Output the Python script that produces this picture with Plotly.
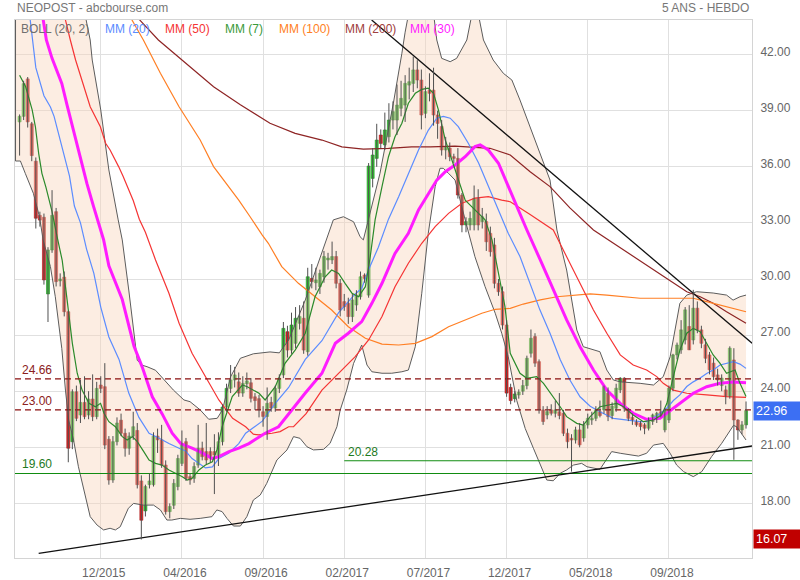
import plotly.graph_objects as go

# ---------------- data ----------------
weeks = list(range(180))

opens = [
    38.4, 38.7, 40.7, 38.3, 36.3, 33.4, 33.3, 29.2, 31.55, 33.6,
    29.9, 30.1, 28.25, 21.3, 23.97, 22.73, 23.4, 22.73, 23.58, 22.64,
    24.33, 24.24, 21.43, 19.25, 21.3, 22.45, 21.75, 20.95, 21.6, 21.9,
    19.2, 17.6, 19.0, 19.0, 21.6, 21.4, 20.05, 17.56, 17.9, 18.9,
    20.14, 21.3, 19.43, 19.34, 20.05, 20.95, 20.77, 20.77, 20.77, 20.5,
    21.3, 23.15, 24.15, 24.6, 24.5, 23.9, 24.4, 24.45, 23.7, 23.6,
    22.9, 22.65, 23.4, 23.1, 24.15, 24.87, 27.18, 26.2, 26.56, 27.63,
    27.9, 26.11, 30.03, 29.8, 29.59, 30.12, 31.02, 31.02, 31.2, 29.77,
    28.79, 28.7, 27.99, 28.61, 29.05, 30.21, 29.14, 35.38, 36.45, 37.7,
    37.17, 37.61, 38.5, 38.5, 39.13, 39.3, 40.37, 40.46, 41.18, 40.64,
    38.86, 40.1, 40.1, 38.77, 38.15, 36.9, 37.0, 36.54, 36.45, 34.49,
    32.89, 32.89, 32.89, 34.31, 33.07, 33.07, 32.44, 31.82, 29.77, 29.32,
    27.54, 24.2, 23.6, 23.8, 24.0, 24.3, 26.03, 26.92, 25.58, 23.0,
    22.73, 23.0, 22.82, 22.9, 22.82, 21.75, 21.48, 21.39, 21.93, 21.5,
    22.2, 22.46, 22.55, 22.9, 23.0, 23.89, 22.7, 23.09, 24.07, 24.69,
    23.0, 22.6, 22.38, 22.29, 22.2, 22.02, 22.38, 22.5, 22.9, 21.93,
    22.46, 24.16, 25.94, 26.21, 26.74, 27.46, 26.74, 28.44, 27.28, 26.48,
    25.94, 25.5, 24.87, 24.3, 24.07, 23.71, 25.67, 22.46, 21.93, 22.2,
]
highs = [
    38.8, 40.6, 40.8, 38.4, 36.5, 33.6, 33.5, 31.7, 34.75, 33.8,
    30.3, 30.4, 28.3, 24.1, 24.3, 24.6, 24.8, 24.0, 24.9, 24.5,
    24.8, 25.5, 21.6, 21.6, 22.6, 22.8, 22.0, 21.8, 22.9, 22.3,
    19.5, 19.0, 19.6, 21.8, 22.0, 22.2, 20.3, 18.0, 19.3, 20.6,
    21.9, 21.5, 19.6, 20.2, 22.2, 21.3, 22.3, 21.0, 21.7, 21.8,
    23.3, 24.4, 25.4, 25.3, 25.0, 24.8, 25.0, 24.7, 23.9, 23.8,
    23.2, 24.2, 23.7, 24.3, 24.9, 27.7, 27.5, 28.2, 28.5, 28.6,
    28.8, 30.6, 30.8, 30.6, 30.5, 31.5, 31.4, 32.0, 31.5, 30.0,
    29.2, 29.0, 29.2, 29.4, 30.4, 30.3, 36.2, 37.0, 38.3, 38.0,
    38.9, 39.4, 39.5, 40.4, 40.6, 40.9, 41.3, 41.9, 41.7, 41.2,
    40.3, 41.0, 41.3, 39.0, 38.5, 37.6, 37.3, 36.7, 37.0, 34.6,
    33.3, 33.6, 35.0, 34.8, 33.8, 33.5, 32.8, 32.2, 30.0, 29.6,
    27.8, 24.4, 24.0, 24.1, 24.6, 25.9, 27.3, 27.1, 25.7, 23.2,
    23.2, 23.3, 23.5, 23.9, 23.0, 22.0, 21.7, 22.1, 22.3, 22.4,
    22.8, 22.9, 23.2, 23.5, 24.3, 24.2, 23.4, 24.4, 24.75, 24.75,
    23.1, 22.8, 22.5, 22.4, 22.3, 22.6, 22.8, 22.9, 23.5, 23.1,
    24.3, 26.0, 26.6, 27.8, 28.5, 28.6, 29.42, 28.8, 27.5, 26.8,
    26.1, 25.8, 25.2, 24.9, 24.3, 26.4, 26.3, 22.5, 22.4, 23.45,
]
lows = [
    36.6, 38.5, 38.1, 36.3, 32.7, 32.8, 29.7, 27.7, 31.4, 29.6,
    29.6, 28.0, 20.2, 20.9, 22.4, 22.3, 22.5, 22.5, 22.4, 22.5,
    23.9, 20.9, 19.0, 19.1, 21.1, 21.6, 20.5, 20.6, 21.4, 18.8,
    16.07, 17.3, 18.8, 18.9, 20.7, 19.9, 17.4, 17.2, 17.7, 18.7,
    20.0, 19.2, 19.0, 19.1, 19.9, 20.3, 20.1, 20.2, 18.5, 20.0,
    21.1, 22.9, 23.9, 24.2, 23.7, 23.7, 24.1, 23.4, 23.0, 22.6,
    22.1, 21.4, 22.9, 22.9, 23.9, 24.7, 25.8, 26.0, 26.3, 27.3,
    26.0, 25.9, 29.5, 29.4, 29.2, 29.8, 30.5, 30.8, 29.5, 28.0,
    28.3, 27.6, 27.7, 28.3, 28.9, 29.8, 29.0, 34.9, 36.0, 37.0,
    36.9, 37.3, 38.0, 37.7, 38.7, 38.4, 39.6, 40.0, 40.2, 38.0,
    38.6, 39.5, 38.2, 37.5, 36.6, 36.4, 36.3, 36.2, 34.3, 32.5,
    32.5, 32.6, 32.6, 32.6, 32.7, 31.5, 31.2, 29.5, 29.1, 27.3,
    23.7, 23.3, 23.4, 23.6, 23.8, 24.1, 25.8, 25.3, 22.8, 22.2,
    22.5, 22.7, 22.6, 22.5, 21.6, 20.95, 19.7, 21.2, 21.0, 21.3,
    22.0, 22.2, 22.4, 22.6, 22.8, 22.4, 22.5, 22.9, 23.9, 22.9,
    22.4, 22.2, 22.1, 21.9, 21.7, 21.9, 22.2, 22.3, 22.6, 21.8,
    22.3, 24.0, 25.7, 26.0, 26.5, 26.2, 26.5, 27.1, 26.3, 25.5,
    24.9, 24.6, 24.3, 24.0, 23.3, 23.6, 20.33, 21.4, 21.7, 22.0,
]
closes = [
    38.7, 40.45, 38.4, 36.6, 33.25, 33.15, 29.95, 31.55, 33.4, 29.86,
    30.0, 28.25, 20.95, 23.97, 22.55, 23.4, 22.64, 23.58, 22.64, 24.15,
    24.15, 21.12, 19.25, 21.3, 22.3, 21.75, 20.95, 21.6, 22.1, 19.0,
    17.1, 18.9, 19.2, 21.6, 21.4, 20.05, 17.56, 17.83, 19.07, 20.4,
    21.12, 19.34, 19.25, 19.97, 20.95, 20.5, 20.32, 20.5, 20.59, 21.3,
    23.15, 24.15, 24.6, 24.87, 23.9, 24.42, 24.55, 23.62, 23.5, 23.0,
    22.65, 23.35, 23.1, 24.15, 24.7, 27.36, 26.2, 27.54, 27.9, 27.99,
    26.2, 30.12, 29.86, 29.95, 30.3, 31.2, 31.12, 31.2, 29.77, 28.34,
    28.52, 27.99, 28.88, 29.14, 30.12, 30.03, 36.04, 36.63, 37.43, 37.25,
    37.97, 38.5, 38.95, 39.3, 39.66, 40.46, 40.55, 41.18, 40.64, 38.77,
    40.02, 39.93, 38.77, 38.32, 36.9, 37.08, 36.54, 36.45, 34.49, 32.89,
    33.07, 33.24, 34.31, 32.89, 33.33, 31.99, 31.46, 29.77, 29.32, 27.54,
    23.9, 23.5, 23.85, 23.95, 24.3, 25.76, 26.83, 25.5, 23.0, 22.38,
    22.91, 22.82, 23.0, 22.7, 21.75, 21.3, 21.39, 21.93, 21.13, 22.2,
    22.55, 22.55, 23.0, 22.7, 24.25, 22.64, 23.2, 24.16, 24.69, 23.09,
    22.55, 22.46, 22.2, 22.11, 22.02, 22.38, 22.73, 22.82, 22.7, 22.96,
    24.16, 25.94, 26.47, 27.28, 28.35, 26.21, 28.44, 27.28, 26.56, 25.76,
    25.14, 24.78, 24.6, 24.7, 23.71, 26.3, 22.46, 21.93, 22.2, 22.96,
]

x_tick_weeks = [20, 40, 60, 80, 100, 120, 140, 160]
x_tick_labels = ["12/2015", "04/2016", "09/2016", "02/2017",
                 "07/2017", "12/2017", "05/2018", "09/2018"]
y_tick_values = [18, 21, 24, 27, 30, 33, 36, 39, 42]

# indicator lines: (week index, value) pairs
mm7 = [(0, 40.9), (1.5, 40.28), (3.1, 39.04), (3.9, 38.14), (4.7, 36.72), (5.5, 35.65), (6.5, 34.9),
       (8, 33.6), (9.2, 32.3), (10.5, 31.0), (11.7, 28.9), (13, 26.56), (14.2, 24.96), (15.4, 24.06),
       (17.1, 23.35), (18.7, 23.17), (19.95, 23.35), (20.8, 22.82), (22, 22.37), (23.6, 22.1),
       (25.3, 21.57), (26.5, 21.39), (27.8, 21.57), (29, 21.3), (30.6, 20.77), (31.9, 20.32),
       (33.5, 20.14), (35.1, 20.05), (36.8, 19.79), (38.4, 19.61), (40.1, 19.43), (41.3, 19.25),
       (42.5, 19.34), (44.2, 19.79), (45.8, 20.05), (47.5, 20.23), (48.7, 20.9), (49.9, 22.1),
       (52.4, 23.71), (54.9, 24.33), (56.1, 24.24), (59, 23.89), (60.5, 23.53), (63, 24.24),
       (65.4, 25.49), (67.9, 26.2), (70.4, 27.1), (72.8, 29.05), (75.3, 30.12), (76.9, 30.48),
       (78.6, 30.3), (80.2, 29.77), (81.9, 29.24), (83.5, 29.05), (85.2, 29.59), (86.4, 31.19),
       (87.6, 33.16), (89.3, 34.94), (90.9, 36.54), (92.5, 37.61), (94.2, 38.33), (95.8, 39.4),
       (97.5, 39.93), (99.1, 40.14), (100.7, 40.2), (102, 39.93), (103.2, 39.04), (104.9, 37.43),
       (106.5, 36.36), (108.1, 35.29), (109.8, 34.22), (111.4, 33.87), (113.1, 33.51),
       (114.7, 33.16), (116.4, 32.09), (118, 30.3), (119.6, 28.52), (120.9, 26.03), (123.3, 24.96),
       (125, 24.69), (127.4, 24.78), (129.1, 24.42), (131.5, 23.71), (133.2, 23.17), (134.8, 22.64),
       (137.3, 22.28), (138.9, 22.19), (140.6, 22.64), (143, 23.17), (145.5, 23.26), (147.2, 23.35),
       (148.8, 23.17), (151.2, 22.73), (153.7, 22.37), (156.2, 22.46), (158.2, 22.73), (159.5, 23.35),
       (161.1, 24.78), (162.7, 26.2), (164.4, 27.1), (166, 27.36), (167.7, 27.18), (169.3, 26.56),
       (170.9, 25.94), (172.6, 25.49), (174.2, 24.96), (176.3, 25.13), (177.5, 24.42), (179, 23.71)]

mm20 = [(2, 45.0), (3, 43.1), (4, 41.3), (6, 39.8), (7.6, 39.2), (8.5, 38.7), (9.6, 37.8), (10.6, 37.0),
        (12.3, 35.5), (13.5, 33.9), (15, 33.0), (16.5, 31.6), (18.3, 30.3), (20, 28.5), (22, 26.9),
        (24.5, 25.7), (26.9, 23.9), (29.4, 22.6), (31.9, 21.75), (34.3, 21.5), (36.8, 21.2),
        (39.3, 20.95), (40.9, 20.8), (42.5, 20.4), (44.2, 20.15), (45.8, 19.9), (47.5, 19.95),
        (49.1, 20.4), (51.6, 20.7), (54, 21.2), (55.7, 21.75), (57.3, 22.0), (59.8, 22.4),
        (63, 23.35), (66.3, 24.2), (70.4, 25.7), (74.5, 26.7), (78.6, 28.2), (82.7, 29.2),
        (84.3, 29.5), (86, 30.5), (88.4, 31.7), (90.9, 33.2), (93.4, 34.4), (95.8, 35.65),
        (98.3, 36.9), (100.7, 37.95), (102.8, 38.6), (104.4, 38.7), (106.1, 38.6), (108.1, 38.15),
        (110.6, 37.25), (113.1, 36.2), (115.5, 34.95), (118, 33.7), (120.4, 32.45), (123.3, 31.2),
        (125.8, 29.8), (128.2, 28.35), (130.7, 27.1), (133.2, 25.7), (135.6, 24.6), (138.1, 23.7),
        (140.6, 23.2), (143, 22.9), (146.3, 22.55), (149.6, 22.45), (152.9, 22.37), (154.5, 22.37),
        (156.2, 22.6), (157.8, 22.8), (159.5, 23.1), (161.1, 23.5), (162.7, 23.8), (164.4, 24.25),
        (166, 24.5), (167.7, 24.7), (169.3, 24.95), (170.9, 25.13), (172.6, 25.4), (174.2, 25.5),
        (175.9, 25.58), (177.5, 25.45), (179, 25.22)]

mm30 = [(5, 45.0), (5.8, 43.85), (6.6, 42.78), (8, 41.8), (10.4, 40.46), (11.7, 39.3), (13, 38.2),
        (14.1, 37.2), (15.4, 36.2), (16.6, 35.1), (18.2, 33.9), (19.9, 32.6), (20.7, 32.1), (22, 30.7),
        (25.3, 28.9), (28.2, 26.4), (30.2, 25.3), (32.7, 23.7), (35.1, 22.8), (37.6, 21.75),
        (39.7, 21.2), (42.5, 20.95), (45, 20.7), (47.5, 20.4), (49.1, 20.5), (51.6, 20.77), (54, 20.95),
        (56.5, 21.2), (59, 21.57), (60.5, 21.75), (63.8, 22.1), (66.3, 22.8), (70.4, 23.9),
        (74.5, 24.96), (77.8, 26.56), (81, 27.1), (84.3, 27.72), (86.8, 28.7), (89.3, 29.77),
        (92.5, 31.37), (95.8, 32.44), (98.3, 33.69), (100.7, 34.58), (102.8, 35.29), (104.9, 35.74),
        (107.3, 36.1), (109.8, 36.54), (112.2, 37.08), (113.5, 37.17), (115.5, 36.9), (118, 36.19),
        (120.4, 34.94), (122.7, 33.8), (125, 32.62), (128.3, 31.02), (131.5, 29.41), (134.8, 27.81),
        (138.1, 26.38), (141.4, 25.13), (144.7, 24.06), (148, 23.35), (151.2, 22.82), (154.5, 22.5),
        (157.8, 22.55), (159.5, 22.82), (162.7, 23.35), (166, 23.89), (169.3, 24.24), (172.6, 24.42),
        (175.9, 24.49), (179, 24.45)]

mm50 = [(11, 44.5), (11.3, 43.85), (12.5, 42.78), (13.8, 41.71), (17.4, 39.21), (19.9, 38.14),
        (21.2, 37.26), (22.3, 36.9), (24.4, 36.01), (25.5, 35.5), (28, 34.2), (29.5, 33.2), (31, 32.5),
        (33.5, 31.02), (36.8, 29.24), (39.3, 27.63), (42.5, 26.03), (45.8, 24.78), (49.1, 23.53),
        (52.5, 22.55), (55.7, 22.1), (57.6, 21.7), (59, 21.66), (60.9, 21.72), (62.2, 21.75),
        (64.2, 21.84), (66.3, 22.1), (67.5, 22.1), (70.6, 22.8), (74.5, 24.06), (78.6, 24.96),
        (82.7, 25.85), (86, 26.74), (89.3, 27.99), (92.5, 29.59), (95.8, 30.84), (99.1, 31.91),
        (102.4, 32.8), (105.7, 33.51), (109, 34.05), (112.2, 34.32), (115.5, 34.4), (118.8, 34.22),
        (120.9, 34.13), (125.8, 33.45), (131.5, 32.62), (134.8, 31.19), (138.1, 29.77),
        (141.4, 28.34), (144.7, 27.1), (148, 25.94), (151.2, 25.4), (154.5, 25.13), (157, 24.78),
        (158.6, 24.42), (161.1, 24.06), (164.4, 23.89), (169.3, 23.8), (174.2, 23.71), (179, 23.67)]

mm100 = [(27, 44.5), (27.7, 43.85), (30.5, 42.78), (33.1, 41.71), (34.7, 41.0), (39.3, 39.21),
         (44.5, 37.43), (47.8, 36.01), (52.7, 34.58), (54, 34.22), (56.8, 33.33), (58.1, 32.89),
         (59.8, 32.35), (61.3, 31.91), (64.6, 30.66), (68.7, 29.77), (72.8, 29.05), (76.9, 28.34),
         (81, 27.45), (85.2, 26.83), (89.3, 26.52), (93.4, 26.47), (97.5, 26.56), (101.6, 26.92),
         (105.7, 27.45), (109.8, 27.81), (113.9, 28.17), (117.2, 28.38), (120.9, 28.43),
         (124.1, 28.66), (128.3, 28.88), (132.4, 29.05), (136.5, 29.14), (140.6, 29.2),
         (144.7, 29.14), (148.8, 29.05), (152.9, 28.97), (157.8, 28.97), (162.7, 28.97), (166, 28.97),
         (169.3, 28.79), (172.6, 28.61), (175.9, 28.43), (179, 28.25)]

mm200 = [(28, 44.6), (29.6, 43.85), (34.2, 42.78), (40, 41.71), (47.8, 40.28), (54.4, 39.32),
         (58.1, 38.81), (61.7, 38.33), (67.9, 37.79), (74.5, 37.43), (79.4, 37.07), (84.7, 36.94),
         (90.9, 36.99), (96.6, 37.07), (101.2, 37.07), (107.3, 37.11), (112.2, 37.04), (115.9, 36.99),
         (120.9, 36.63), (125.8, 35.74), (130.7, 34.94), (135.6, 33.8), (141.4, 32.62), (146.3, 31.91),
         (151.2, 31.19), (156.2, 30.48), (161.1, 29.77), (164.4, 29.32), (167.7, 29.05), (170.9, 28.7),
         (174.2, 28.25), (179, 27.63)]

boll_up = [(-1, 58.0), (8, 54.0), (14, 47.5), (16.4, 43.85), (17.4, 42.78), (17.9, 41.71), (20, 39.04),
           (22, 35.83), (24.3, 33.16), (25.3, 32.09), (26.9, 29.41), (28.2, 27.1), (29, 25.65),
           (30.2, 25.39), (31.4, 25.31), (33.5, 25.12), (36, 24.55), (37.9, 24.06), (40.5, 23.53),
           (42, 23.44), (44.5, 23.0), (46.6, 22.5), (48.7, 22.55), (50, 23.0), (52, 24.77),
           (54.4, 25.76), (57.6, 26.0), (61.7, 26.1), (64, 26.05), (66.3, 26.74), (70.4, 28.88),
           (74.5, 31.37), (77.3, 33.16), (79.8, 33.33), (82.3, 33.06), (83.9, 32.26), (84.7, 32.09),
           (88.8, 35.65), (92.1, 39.4), (94.2, 42.07), (95, 43.2), (97, 45.5), (100, 46.0), (102, 44.2),
           (102.8, 42.78), (104, 41.8), (106.1, 41.62), (107.7, 41.8), (109.4, 42.42), (110.2, 42.78),
           (111.5, 44.2), (113, 44.2), (114.3, 42.78), (116.7, 41.71), (119.2, 41.0), (121.3, 40.64),
           (123.3, 39.57), (125.8, 38.14), (128.2, 36.72), (130.7, 35.29), (132.4, 32.62),
           (134.8, 30.48), (137.3, 27.27), (138.9, 26.38), (143, 26.11), (144.7, 25.13), (146.3, 24.6),
           (148, 24.5), (152.9, 24.42), (156.2, 24.33), (158.6, 24.78), (160.3, 25.84), (162.7, 28.7),
           (164.4, 29.14), (166.8, 29.32), (170.9, 29.25), (174.2, 29.14), (175.8, 28.87),
           (177.5, 29.05), (179, 29.14)]

boll_lo = [(-1, 36.31), (0.2, 36.31), (1.4, 35.65), (3.4, 34.58), (4.9, 33.33), (5.8, 32.09), (7.6, 30.66),
           (8.8, 29.05), (10.4, 26.29), (10.8, 25.13), (11.3, 24.06), (12.1, 22.46), (13.3, 21.39),
           (14.5, 19.96), (15.8, 18.72), (17.4, 17.29), (19.1, 16.84), (20.7, 16.58), (22.3, 16.67),
           (23.6, 16.58), (24.8, 16.75), (25.6, 17.11), (26.8, 17.74), (28.1, 18.0), (30.5, 17.91),
           (33, 17.91), (34.7, 17.65), (36.3, 17.11), (37.5, 17.11), (39.6, 17.2), (42, 17.15),
           (44.5, 17.2), (47.4, 17.29), (48.6, 17.65), (49.9, 17.56), (51.1, 17.2), (52.7, 16.79),
           (54.4, 16.79), (56, 17.29), (57.6, 18.18), (59.3, 18.45), (60.9, 19.07), (63.4, 20.32),
           (65.9, 20.86), (67.5, 21.57), (69.1, 21.48), (70.8, 21.03), (72.4, 20.86), (74.9, 20.89),
           (76.5, 21.21), (78.2, 22.1), (79, 22.99), (80.6, 24.06), (82.3, 25.49), (83.5, 26.11),
           (84.3, 26.47), (85.6, 25.4), (86.8, 25.04), (89.3, 24.96), (91.7, 24.96), (94.2, 25.04),
           (95.8, 25.13), (97.5, 26.38), (99.1, 29.24), (100.7, 32.44), (102.4, 34.94), (103.6, 35.92),
           (104.4, 35.92), (105.7, 35.65), (107.3, 35.29), (109.8, 33.16), (112.2, 31.19),
           (114.7, 29.59), (117.2, 28.17), (118.8, 27.1), (120.4, 25.85), (122.5, 23.5), (124.6, 22.0),
           (126.6, 20.95), (128.2, 20.14), (129.9, 19.25), (131.5, 19.21), (133.2, 19.61),
           (134.8, 19.79), (136.5, 20.05), (138.5, 20.14), (139.8, 19.96), (143, 19.82), (144.3, 20.23),
           (145.9, 20.77), (148, 20.68), (150.4, 20.59), (152.5, 20.53), (154.5, 20.68), (156.2, 21.12),
           (158.6, 21.21), (160.3, 20.68), (161.9, 20.05), (163.6, 19.7), (166, 19.43), (168.1, 19.7),
           (170.5, 20.5), (173, 21.21), (175.9, 22.17), (176.7, 22.1), (179, 21.39)]

dashed_levels = [24.66, 23.00]
green_level_full = 19.60
green_level_part = 20.28
green_level_part_start = 80
support_weeks = [4.7, 180.5]
support_vals = [15.33, 21.07]
resist_weeks = [86.75, 180.5]
resist_vals = [43.85, 26.56]
low_5y = 16.07

legend_names = ["BOLL (20, 2)", "MM (20)", "MM (50)", "MM (7)", "MM (100)", "MM (200)", "MM (30)"]

assert len(opens) == len(highs) == len(lows) == len(closes) == len(weeks)

# ---------------- styling ----------------
W, H = 800, 580
ML, MR, MT, MB = 15, 48, 20, 22
PW, PH = W - ML - MR, H - MT - MB
X_RANGE = [-1.13, 180.47]
Y_RANGE = [15.08, 43.85]
FONT = "Liberation Sans, Arial, sans-serif"

C_MM7 = "#2b8a2b"
C_MM20 = "#5b8cff"
C_MM30 = "#ff1cff"
C_MM50 = "#f53434"
C_MM100 = "#ff7f24"
C_MM200 = "#8e2424"
C_BOLL = "#5c5c5c"
C_GREEN_LEVEL = "#118c11"
legend_colors = ["#707070", C_MM20, C_MM50, "#3a9a3a", C_MM100, "#a04040", C_MM30]
legend_px = [19, 103, 163, 222.5, 277, 343, 408]


def px_x(p):
    return (p - ML) / PW


def px_y(p):
    return (H - MB - p) / PH


def xs(pairs):
    return [p[0] for p in pairs]


def ys(pairs):
    return [p[1] for p in pairs]


fig = go.Figure()

# Bollinger band fill
fig.add_trace(go.Scatter(
    x=xs(boll_up) + xs(boll_lo)[::-1], y=ys(boll_up) + ys(boll_lo)[::-1],
    fill="toself", fillcolor="rgba(248, 212, 186, 0.42)", line=dict(width=0),
    mode="lines", hoverinfo="skip"))
# left closing edge of the band
fig.add_trace(go.Scatter(x=[boll_lo[0][0], boll_up[0][0]], y=[boll_lo[0][1], boll_up[0][1]],
                         mode="lines", line=dict(color=C_BOLL, width=1), hoverinfo="skip"))
for band in (boll_up, boll_lo):
    fig.add_trace(go.Scatter(x=xs(band), y=ys(band), mode="lines",
                             line=dict(color=C_BOLL, width=1), hoverinfo="skip"))

# moving averages
for series, color, width in [(mm200, C_MM200, 1.2), (mm100, C_MM100, 1.2), (mm50, C_MM50, 1.2),
                             (mm20, C_MM20, 1.2), (mm30, C_MM30, 3), (mm7, C_MM7, 1.2)]:
    fig.add_trace(go.Scatter(x=xs(series), y=ys(series), mode="lines",
                             line=dict(color=color, width=width), hoverinfo="skip"))

# horizontal levels
for lv in dashed_levels:
    fig.add_trace(go.Scatter(x=X_RANGE, y=[lv, lv], mode="lines",
                             line=dict(color="#8b0f0f", width=1.2, dash="6px,4px"), hoverinfo="skip"))
fig.add_trace(go.Scatter(x=X_RANGE, y=[green_level_full] * 2, mode="lines",
                         line=dict(color=C_GREEN_LEVEL, width=1.2), hoverinfo="skip"))
fig.add_trace(go.Scatter(x=[green_level_part_start, X_RANGE[1]], y=[green_level_part] * 2, mode="lines",
                         line=dict(color=C_GREEN_LEVEL, width=1.2), hoverinfo="skip"))

# trend lines
fig.add_trace(go.Scatter(x=support_weeks, y=support_vals, mode="lines",
                         line=dict(color="#111111", width=1.3), hoverinfo="skip"))
fig.add_trace(go.Scatter(x=resist_weeks, y=resist_vals, mode="lines",
                         line=dict(color="#111111", width=1.3), hoverinfo="skip"))

# candles: wicks
wx, wy = [], []
for w, lo, hi in zip(weeks, lows, highs):
    wx += [w, w, None]
    wy += [lo, hi, None]
fig.add_trace(go.Scatter(x=wx, y=wy, mode="lines", line=dict(color="#505050", width=1),
                         hoverinfo="skip"))

# candles: bodies
for up, fill, edge in [(True, "#33cc33", "#1f8f1f"), (False, "#e02222", "#a81515")]:
    bx, bb, bh = [], [], []
    for w, o, c in zip(weeks, opens, closes):
        if (c >= o) == up:
            bx.append(w)
            bb.append(min(o, c))
            bh.append(max(abs(c - o), 0.07))
    fig.add_trace(go.Bar(x=bx, y=bh, base=bb, width=0.74,
                         marker=dict(color=fill, line=dict(color=edge, width=0.6)),
                         hoverinfo="skip"))

ann = []
# level labels
for lv in dashed_levels:
    ann.append(dict(x=px_x(20), xref="paper", xanchor="left", y=lv, yref="y", yanchor="bottom",
                    text=f"{lv:.2f}", showarrow=False, font=dict(size=12, color="#8b2020", family=FONT)))
ann.append(dict(x=px_x(20), xref="paper", xanchor="left", y=green_level_full, yref="y",
                yanchor="bottom", text=f"{green_level_full:.2f}", showarrow=False,
                font=dict(size=12, color="#1e7a1e", family=FONT)))
ann.append(dict(x=green_level_part_start, xref="x", xanchor="left", xshift=2, y=green_level_part,
                yref="y", yanchor="bottom", text=f"{green_level_part:.2f}", showarrow=False,
                font=dict(size=12, color="#1e7a1e", family=FONT)))
# legend row
for name, color, p in zip(legend_names, legend_colors, legend_px):
    ann.append(dict(x=px_x(p), xref="paper", xanchor="left", y=px_y(28.5), yref="paper",
                    yanchor="middle", text=name, showarrow=False,
                    font=dict(size=12, color=color, family=FONT)))
# titles
ann.append(dict(x=px_x(15), xref="paper", xanchor="left", y=px_y(8.5), yref="paper", yanchor="middle",
                text="NEOPOST - abcbourse.com", showarrow=False,
                font=dict(size=12, color="#777777", family=FONT)))
ann.append(dict(x=px_x(751), xref="paper", xanchor="right", y=px_y(8.5), yref="paper",
                yanchor="middle", text="5 ANS - HEBDO", showarrow=False,
                font=dict(size=12, color="#777777", family=FONT)))
# price tags on the right axis
for val, bg in [(closes[-1], "#3c6ff3"), (low_5y, "#c00000")]:
    ann.append(dict(x=1, xref="paper", xanchor="left", xshift=1, y=val, yref="y", yanchor="middle",
                    text=f"{val:.2f}", showarrow=False, bgcolor=bg, width=43, align="left",
                    borderpad=2, font=dict(size=12.5, color="white", family=FONT)))

fig.update_layout(
    width=W, height=H, margin=dict(l=ML, r=MR, t=MT, b=MB, autoexpand=False),
    plot_bgcolor="white", paper_bgcolor="white", showlegend=False,
    barmode="overlay", annotations=ann, font=dict(family=FONT),
    xaxis=dict(range=X_RANGE, tickvals=x_tick_weeks, ticktext=x_tick_labels,
               showgrid=True, gridcolor="#e0e0e0", gridwidth=1, zeroline=False,
               showline=True, linecolor="#d4d4d4", mirror=True, ticks="", automargin=False,
               tickfont=dict(size=12, color="#666666", family=FONT),
               ticklabelstandoff=4, ticklabelshift=3),
    yaxis=dict(range=Y_RANGE, side="right", tickvals=y_tick_values, tickformat=".2f",
               showgrid=True, gridcolor="#e0e0e0", gridwidth=1, zeroline=False,
               showline=True, linecolor="#d4d4d4", mirror=True, ticks="", automargin=False,
               tickfont=dict(size=12, color="#666666", family=FONT),
               ticklabelstandoff=5, ticklabelshift=-3),
)

fig.write_html("out.html", config={"displayModeBar": False},
               post_script="document.body.style.margin='0';")
